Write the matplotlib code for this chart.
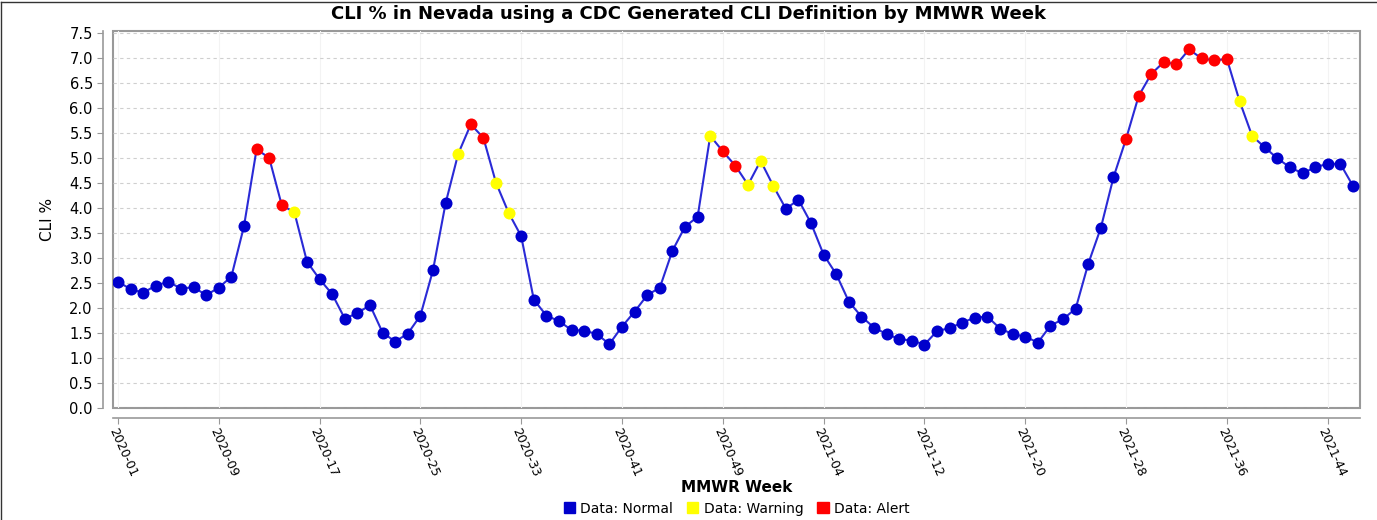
import numpy as np
import matplotlib
matplotlib.use("Agg")
import matplotlib.pyplot as plt
from matplotlib.lines import Line2D
from matplotlib.patches import Patch

plt.rcParams["font.family"] = ["DejaVu Sans"]

# Semanas MMWR (2020 tiene 53 semanas)
semanas = [f"2020-{w:02d}" for w in range(1, 54)] + [f"2021-{w:02d}" for w in range(1, 47)]

cli_pct = [
    2.53, 2.38, 2.31, 2.45, 2.53, 2.39, 2.42, 2.26, 2.41, 2.63,
    3.64, 5.18, 5.01, 4.06, 3.92, 2.93, 2.58, 2.28, 1.79, 1.90,
    2.06, 1.51, 1.33, 1.49, 1.85, 2.76, 4.10, 5.09, 5.68, 5.41,
    4.51, 3.91, 3.44, 2.17, 1.85, 1.74, 1.56, 1.55, 1.48, 1.28,
    1.63, 1.93, 2.26, 2.41, 3.15, 3.63, 3.83, 5.45, 5.14, 4.85,
    4.47, 4.95, 4.45, 3.99, 4.17, 3.70, 3.07, 2.68, 2.13, 1.83,
    1.61, 1.48, 1.38, 1.35, 1.27, 1.54, 1.60, 1.71, 1.81, 1.83,
    1.59, 1.48, 1.43, 1.31, 1.65, 1.78, 1.99, 2.89, 3.61, 4.62,
    5.39, 6.25, 6.69, 6.93, 6.88, 7.18, 7.00, 6.96, 6.99, 6.15,
    5.45, 5.22, 5.00, 4.82, 4.70, 4.82, 4.89, 4.89, 4.45,
]

# N = normal, W = warning, A = alert
estado = (
    "NNNNNNNNNN"
    "NAAAWNNNNN"
    "NNNNNNNWAA"
    "WWNNNNNNNN"
    "NNNNNNNWAA"
    "WWWNNNNNNN"
    "NNNNNNNNNN"
    "NNNNNNNNNN"
    "AAAAAAAAAW"
    "WNNNNNNNN"
)

tick_labels = ["2020-01", "2020-09", "2020-17", "2020-25", "2020-33", "2020-41", "2020-49",
               "2021-04", "2021-12", "2021-20", "2021-28", "2021-36", "2021-44"]

colores = {"N": "#0000cc", "W": "#ffff00", "A": "#ff0000"}

x = np.arange(len(cli_pct))
y = np.array(cli_pct)

fig = plt.figure(figsize=(13.77, 5.2), dpi=100)
ax = fig.add_axes([0.082, 0.2154, 0.906, 0.725])

# Marco del área de trazado
ax.patch.set_edgecolor("#999999")
ax.patch.set_linewidth(1.5)
for s in ["top", "right"]:
    ax.spines[s].set_visible(False)
for s in ["left", "bottom"]:
    ax.spines[s].set_position(("outward", 7))
    ax.spines[s].set_color("#999999")
    ax.spines[s].set_linewidth(1.2)

# Línea y puntos
ax.plot(x, y, color="#2a2ad6", linewidth=1.5, zorder=3)
for k in ["N", "W", "A"]:
    sel = np.array([e == k for e in estado])
    ax.scatter(x[sel], y[sel], s=75, color=colores[k], zorder=4, linewidths=0)

ax.set_xlim(-0.4, len(cli_pct) - 0.4)
ax.set_ylim(0, 7.55)
ax.set_yticks(np.arange(0, 7.51, 0.5))
ax.set_yticklabels([f"{v:.1f}" for v in np.arange(0, 7.51, 0.5)], fontsize=10.5)

pos = [semanas.index(t) for t in tick_labels]
ax.set_xticks(pos)
ax.set_xticklabels(tick_labels, rotation=-66, ha="left", va="top",
                   rotation_mode="anchor", fontsize=9)
ax.tick_params(axis="x", pad=2)
ax.tick_params(axis="both", color="#999999", length=4)

# Rejilla
ax.yaxis.grid(True, linestyle=(0, (3, 3)), color="#cfcfcf", linewidth=0.8)
ax.xaxis.grid(True, linestyle="-", color="#f3f3f3", linewidth=0.8)
ax.set_axisbelow(True)

fig.text(0.5, 0.973, "CLI % in Nevada using a CDC Generated CLI Definition by MMWR Week",
         ha="center", va="center", fontsize=13, fontweight="bold")
ax.set_ylabel("CLI %", fontsize=11, labelpad=10)
fig.text(0.535, 0.062, "MMWR Week", ha="center", va="center",
         fontsize=11, fontweight="bold")

handles = [Patch(color=colores["N"], label="Data: Normal"),
           Patch(color=colores["W"], label="Data: Warning"),
           Patch(color=colores["A"], label="Data: Alert")]
fig.legend(handles=handles, loc="center", bbox_to_anchor=(0.535, 0.022), ncol=3,
           frameon=False, fontsize=10, handlelength=0.8, handleheight=0.8,
           handletextpad=0.4, columnspacing=1.0)

# Borde de la imagen (izquierda y arriba)
fig.add_artist(Line2D([0.001, 0.001], [0, 0.997], transform=fig.transFigure, color="#333333", lw=1))
fig.add_artist(Line2D([0.001, 1], [0.997, 0.997], transform=fig.transFigure, color="#333333", lw=1))

fig.savefig("out.png", dpi=100)
